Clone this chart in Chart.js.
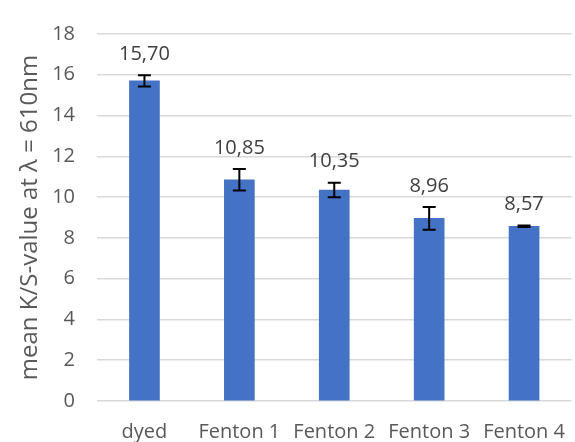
<!DOCTYPE html>
<html>
<head>
<meta charset="utf-8">
<script src="https://cdn.jsdelivr.net/npm/chart.js@4/dist/chart.umd.min.js"></script>
<style>
  html, body { margin: 0; padding: 0; background: #fff; overflow: hidden; }
  #wrap { width: 584px; height: 442px; }
</style>
</head>
<body>
<div id="wrap"><canvas id="c" width="584" height="442"></canvas></div>
<script>
// Mean K/S values at 610 nm per sample, with their standard deviations
const categories = ['dyed', 'Fenton 1', 'Fenton 2', 'Fenton 3', 'Fenton 4'];
const meanKS = [15.70, 10.85, 10.35, 8.96, 8.57];
const stdDev = [0.28, 0.53, 0.36, 0.56, 0.04];
const yTicks = [0, 2, 4, 6, 8, 10, 12, 14, 16, 18];

const FONT = "'Open Sans', 'DejaVu Sans', sans-serif";
const TEXT = '#595959';

// Error bars and value labels drawn on top of the bars
const errorBarsAndLabels = {
  id: 'errorBarsAndLabels',
  afterDatasetsDraw(chart) {
    const { ctx } = chart;
    const y = chart.scales.y;
    const meta = chart.getDatasetMeta(0);
    ctx.save();
    meta.data.forEach((bar, i) => {
      const x = bar.x;
      const hi = y.getPixelForValue(meanKS[i] + stdDev[i]);
      const lo = y.getPixelForValue(meanKS[i] - stdDev[i]);
      const cap = 6.5;
      ctx.strokeStyle = '#000';
      ctx.lineWidth = 2;
      ctx.beginPath();
      ctx.moveTo(x, hi); ctx.lineTo(x, lo);
      ctx.moveTo(x - cap, hi); ctx.lineTo(x + cap, hi);
      ctx.moveTo(x - cap, lo); ctx.lineTo(x + cap, lo);
      ctx.stroke();

      ctx.fillStyle = '#404040';
      ctx.font = '20px ' + FONT;
      ctx.textAlign = 'center';
      ctx.textBaseline = 'middle';
      ctx.fillText(meanKS[i].toFixed(2).replace('.', ','), x, Math.min(hi, bar.y) - 21);
    });
    ctx.restore();
  }
};

new Chart(document.getElementById('c'), {
  type: 'bar',
  data: {
    labels: categories,
    datasets: [{
      data: meanKS,
      backgroundColor: '#4472C4',
      borderWidth: 0,
      barThickness: 30
    }]
  },
  options: {
    responsive: false,
    animation: false,
    devicePixelRatio: 1,
    layout: { padding: { top: 28, right: 0, bottom: 0, left: 0 } },
    plugins: {
      legend: { display: false },
      tooltip: { enabled: false }
    },
    scales: {
      x: {
        grid: { display: false, drawTicks: false },
        border: { display: false },
        ticks: {
          color: TEXT,
          font: { family: FONT, size: 20 },
          padding: 19,
          maxRotation: 0,
          autoSkip: false
        },
        afterFit(scale) { scale.height = 41; }
      },
      y: {
        min: 0,
        max: 18,
        afterBuildTicks(scale) { scale.ticks = yTicks.map(v => ({ value: v })); },
        grid: { color: '#d9d9d9', lineWidth: 1.5, drawTicks: false },
        border: { display: false },
        ticks: {
          color: TEXT,
          font: { family: FONT, size: 20 },
          padding: 22
        },
        title: {
          display: true,
          text: 'mean K/S-value at λ = 610nm',
          color: TEXT,
          font: { family: FONT, size: 24 },
          padding: { top: 16, bottom: 0 }
        },
        afterFit(scale) { scale.width = 97; }
      }
    }
  },
  plugins: [errorBarsAndLabels]
});
</script>
</body>
</html>
